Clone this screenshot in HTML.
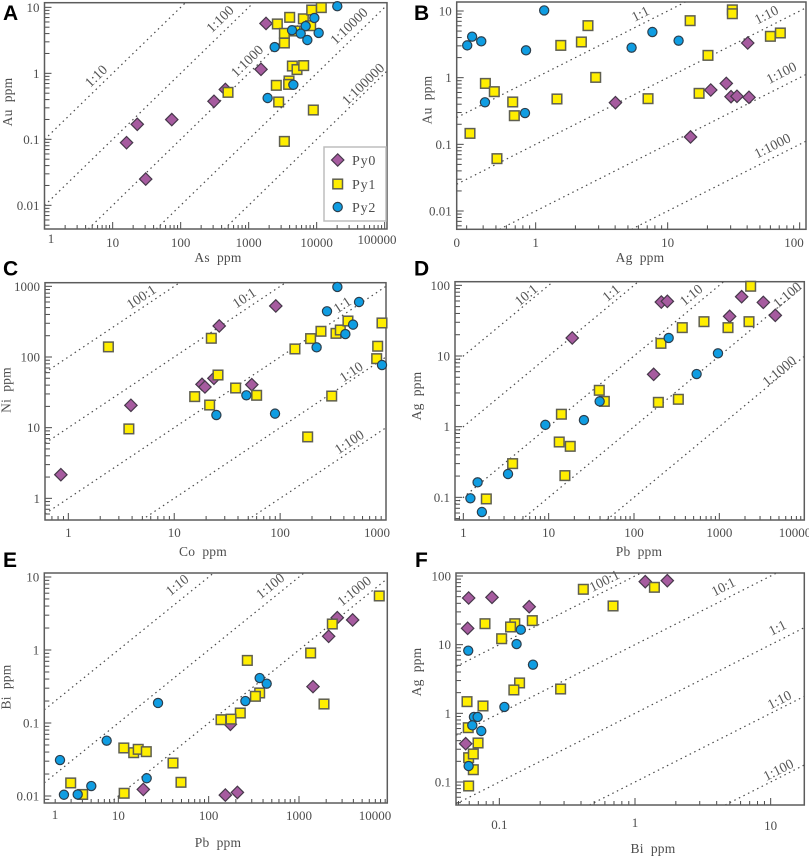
<!DOCTYPE html>
<html lang="en">
<head>
<meta charset="utf-8">
<title>Pyrite trace element scatter plots</title>
<style>
html,body{margin:0;padding:0;background:#fff;width:809px;height:858px;overflow:hidden;}
svg{display:block;}
text{font-family:"Liberation Serif",serif;fill:#4d4d4d;}
.lt{font-size:13px;}
.at{font-size:13.5px;letter-spacing:.2px;}
.rl{font-size:14px;fill:#555;}
.pl{font-family:"Liberation Sans",sans-serif;font-weight:700;font-size:21px;fill:#000;}
.lg{font-size:14px;letter-spacing:.8px;}
</style>
</head>
<body>
<svg id="chart" xmlns="http://www.w3.org/2000/svg" width="809" height="858" viewBox="0 0 809 858"></svg>
<script>
// Panel A: Au vs As
const aPy0X = [1800,1518,454,309,74,23,16,30.6];
const aPy0Y = [5.7,1.15,0.57,0.377,0.199,0.169,0.089,0.025];
const aPy1X = [2640,4010,6370,8450,11700,3350,3350,4800,8160,4390,5140,6440,3920,3870,2550,497,2760,8930,3350];
const aPy1Y = [5.6,7.05,6.7,9.1,9.9,4.04,2.88,4.38,5.27,1.29,1.14,1.31,0.766,0.68,0.658,0.515,0.368,0.278,0.093];
const aPy2X = [20100,9240,6890,4340,5820,10700,7290,2410,4540,1900];
const aPy2Y = [10.4,6.9,5.2,4.5,4.0,4.1,3.2,2.5,0.67,0.423];
const aRatios = [0.1,0.01,0.001,0.0001,0.00001];
const aRatioLabels = ["1:10","1:100","1:1000","1:10000","1:100000"];
const aXTicks = [1,10,100,1000,10000,100000];
const aXTickLabels = ["1","10","100","1000","10000","100000"];
const aYTicks = [10,1,0.1,0.01];
const aYTickLabels = ["10","1","0.1","0.01"];

// Panel B: Au vs Ag
const bPy0X = [40.4,27.8,21.2,30.2,33.5,41.3,4.02,14.9];
const bPy0Y = [3.31,0.82,0.653,0.519,0.525,0.507,0.422,0.129];
const bPy1X = [30.9,30.9,14.8,71.4,60,20.2,2.49,2.22,1.55,2.85,0.416,0.486,1.45,7.1,17.3,0.67,0.689,0.318,0.509];
const bPy1Y = [10.4,9.1,7.16,4.68,4.17,2.16,6.03,3.43,3.05,1.01,0.82,0.617,0.479,0.484,0.582,0.432,0.269,0.146,0.061];
const bPy2X = [1.16,0.303,0.33,0.387,0.845,0.413,0.83,5.33,7.66,12.1];
const bPy2Y = [10.2,3.05,4.12,3.51,2.57,0.427,0.295,2.82,4.84,3.59];
const bRatios = [1,0.1,0.01,0.001];
const bRatioLabels = ["1:1","1:10","1:100","1:1000"];
const bXTicks = [0.25,1,10,100];
const bXTickLabels = ["0","1","10","100"];
const bYTicks = [10,1,0.1,0.01];
const bYTickLabels = ["10","1","0.1","0.01"];

// Panel C: Ni vs Co
const cPy0X = [91,26.6,0.85,3.9,18.3,19.5,23.7,54];
const cPy0Y = [527,275,2.16,20.7,41,37.6,49.9,40.6];
const cPy1X = [2.39,3.73,22.4,25.9,15.6,21.6,38,60,138,194,243,337,370,437,916,834,816,307,182];
const cPy1Y = [139,9.6,184,55.6,27.5,20.9,36.4,28.7,130,182,231,216,241,323,303,142,94.7,28,7.4];
const cPy2X = [347,556,277,488,413,221,916,48,25,89.5];
const cPy2Y = [979,600,443,287,211,137,77,28.7,15.1,15.8];
const cRatios = [100,10,1,0.1,0.01];
const cRatioLabels = ["100:1","10:1","1:1","1:10","1:100"];
const cXTicks = [1,10,100,1000];
const cXTickLabels = ["1","10","100","1000"];
const cYTicks = [1000,100,10,1];
const cYTickLabels = ["1000","100","10","1"];

// Panel D: Ag vs Pb
const dPy0X = [18.9,209,246,1827,3280,1321,4530,170];
const dPy0Y = [18,58,59.4,69,57.4,36.4,37.6,5.5];
const dPy1X = [2330,661,368,207,2228,1264,39.2,44.9,14.1,13.3,17.9,15.5,3.78,1.86,193,331];
const dPy1Y = [97,30.6,25.2,15.1,30.6,25.2,3.27,2.28,1.5,0.607,0.527,0.203,0.3,0.095,2.21,2.44];
const dPy2X = [255,964,542,39.6,25.9,9.14,3.34,1.47,1.21,1.65];
const dPy2Y = [18,10.9,5.56,2.28,1.24,1.06,0.214,0.163,0.097,0.062];
const dRatios = [10,1,0.1,0.01,0.001];
const dRatioLabels = ["10:1","1:1","1:10","1:100","1:1000"];
const dXTicks = [1,10,100,1000,10000];
const dXTickLabels = ["1","10","100","1000","10000"];
const dYTicks = [100,10,1,0.1];
const dYTickLabels = ["100","10","1","0.1"];

// Panel E: Bi vs Pb
const ePy0X = [2655,3926,2130,1429,174,18.9,153,208];
const ePy0Y = [2.77,2.58,1.54,0.315,0.096,0.0123,0.0103,0.0112];
const ePy1X = [7740,2339,1346,268,367,329,224,177,137,1892,11.5,14.8,16.6,20.4,40.3,49.4,11.6,2.97,4.03];
const ePy1Y = [5.5,2.27,0.91,0.72,0.258,0.232,0.137,0.113,0.111,0.182,0.0455,0.0392,0.0436,0.0405,0.0283,0.0154,0.0109,0.0151,0.0105];
const ePy2X = [27.5,7.43,2.26,2.5,3.55,5.02,20.6,255,367,439];
const ePy2Y = [0.188,0.0573,0.0311,0.0104,0.0105,0.0137,0.0175,0.2,0.413,0.346];
const eRatios = [0.1,0.01,0.001];
const eRatioLabels = ["1:10","1:100","1:1000"];
const eXTicks = [1,10,100,1000,10000];
const eXTickLabels = ["1","10","100","1000","10000"];
const eYTicks = [10,1,0.1,0.01];
const eYTickLabels = ["10","1","0.1","0.01"];

// Panel F: Ag vs Bi
const fPy0X = [0.0594,0.0883,0.166,0.0584,0.0565,1.19,1.73];
const fPy0Y = [47.8,48.9,35.7,17.3,0.361,82.7,85.5];
const fPy1X = [0.416,1.39,0.689,0.175,0.0784,0.13,0.121,0.104,0.141,0.128,0.283,0.0578,0.0758,0.059,0.0697,0.0594,0.0643,0.0643,0.0594];
const fPy1Y = [64,68.4,36.6,22.4,20.2,20.2,18.1,12.2,2.77,2.19,2.26,1.48,1.28,0.618,0.37,0.226,0.256,0.151,0.0875];
const fPy2X = [0.144,0.134,0.177,0.059,0.109,0.065,0.0692,0.0632,0.0736,0.0594];
const fPy2Y = [16.5,10.2,5.11,8.18,1.24,0.885,0.885,0.668,0.553,0.171];
const fRatios = [100,10,1,0.1,0.01];
const fRatioLabels = ["100:1","10:1","1:1","1:10","1:100"];
const fXTicks = [0.1,1,10];
const fXTickLabels = ["0.1","1","10"];
const fYTicks = [100,10,1,0.1];
const fYTickLabels = ["100","10","1","0.1"];

const NS = "http://www.w3.org/2000/svg";
const root = document.getElementById("chart");

function make(tag, parent, attrs, txt) {
  const el = document.createElementNS(NS, tag);
  for (const k in attrs) el.setAttribute(k, attrs[k]);
  if (txt !== undefined) el.textContent = txt;
  parent.appendChild(el);
  return el;
}

const panels = [
  {id:"a", letter:"A", lx:3, ly:20, xName:"As  ppm", yName:"Au  ppm",
   box:[44.5,387,2.7,229], x0:44.67, xDec:68, y0:73.33, yDec:66,
   labMin:51, labMax:377, labY:247, labDy:[-4,0,0,0,0,-3], titleX:218, titleY:262, yTitleX:9, yTitleY:102,
   py0:[aPy0X,aPy0Y], py1:[aPy1X,aPy1Y], py2:[aPy2X,aPy2Y],
   ratios:aRatios, ratioLabels:aRatioLabels,
   ratioPos:[[97,77],[221,20],[248,62],[350,27],[364,85]],
   xTicks:aXTicks, xTickLabels:aXTickLabels, yTicks:aYTicks, yTickLabels:aYTickLabels},
  {id:"b", letter:"B", lx:414, ly:20, xName:"Ag  ppm", yName:"Au  ppm",
   box:[456.7,806,2,229.3], x0:535.67, xDec:132, y0:77.67, yDec:66.67,
   labMin:456.7, labMax:794, labY:247, labDy:[0,0,0,0], titleX:640, titleY:262, yTitleX:428.5, yTitleY:100,
   py0:[bPy0X,bPy0Y], py1:[bPy1X,bPy1Y], py2:[bPy2X,bPy2Y],
   ratios:bRatios, ratioLabels:bRatioLabels,
   ratioPos:[[641,15],[767,16],[782,74],[773,147]],
   xTicks:bXTicks, xTickLabels:bXTickLabels, yTicks:bYTicks, yTickLabels:bYTickLabels},
  {id:"c", letter:"C", lx:3, ly:275.5, xName:"Co  ppm", yName:"Ni  ppm",
   box:[45,386,282.7,520], x0:68.33, xDec:105.9, y0:498.33, yDec:70.67,
   labMin:51, labMax:377, labY:537, labDy:[0,0,0,0], titleX:203, titleY:556, yTitleX:7.5, yTitleY:390,
   py0:[cPy0X,cPy0Y], py1:[cPy1X,cPy1Y], py2:[cPy2X,cPy2Y],
   ratios:cRatios, ratioLabels:cRatioLabels,
   ratioPos:[[142,298],[245,299],[343,306],[352,373],[350,443]],
   xTicks:cXTicks, xTickLabels:cXTickLabels, yTicks:cYTicks, yTickLabels:cYTickLabels},
  {id:"d", letter:"D", lx:414, ly:275.5, xName:"Pb  ppm", yName:"Ag  ppm",
   box:[455,804.3,281.7,520], x0:463.33, xDec:85.33, y0:426.67, yDec:70.67,
   labMin:463, labMax:795, labY:537, labDy:[0,0,0,0,0], titleX:639, titleY:556, yTitleX:418, yTitleY:396,
   py0:[dPy0X,dPy0Y], py1:[dPy1X,dPy1Y], py2:[dPy2X,dPy2Y],
   ratios:dRatios, ratioLabels:dRatioLabels,
   ratioPos:[[527,296],[612,294],[692,296],[788,296],[780,372]],
   xTicks:dXTicks, xTickLabels:dXTickLabels, yTicks:dYTicks, yTickLabels:dYTickLabels},
  {id:"e", letter:"E", lx:3, ly:567, xName:"Pb  ppm", yName:"Bi  ppm",
   box:[44.3,387.3,573,803], x0:28, xDec:90.33, y0:650, yDec:73,
   labMin:55, labMax:375, labY:820, labDy:[-1,0,0,0,0], titleX:218, titleY:847, yTitleX:7.5, yTitleY:687,
   py0:[ePy0X,ePy0Y], py1:[ePy1X,ePy1Y], py2:[ePy2X,ePy2Y],
   ratios:eRatios, ratioLabels:eRatioLabels,
   ratioPos:[[178,586],[271,587],[355,592]],
   xTicks:eXTicks, xTickLabels:eXTickLabels, yTicks:eYTicks, yTickLabels:eYTickLabels},
  {id:"f", letter:"F", lx:415, ly:567, xName:"Bi  ppm", yName:"Ag  ppm",
   box:[456,804.3,573,805], x0:635, xDec:135.67, y0:713.33, yDec:68.67,
   labMin:456, labMax:795, labY:829, labDy:[0,-2,1], titleX:653, titleY:853, yTitleX:418, yTitleY:672,
   py0:[fPy0X,fPy0Y], py1:[fPy1X,fPy1Y], py2:[fPy2X,fPy2Y],
   ratios:fRatios, ratioLabels:fRatioLabels,
   ratioPos:[[605,582],[724,588],[778,629],[780,701],[779,771]],
   xTicks:fXTicks, xTickLabels:fXTickLabels, yTicks:fYTicks, yTickLabels:fYTickLabels}
];

function drawDiamond(parent, x, y) {
  const r = 6.2;
  const el = make("polygon", parent, {
    points: (x-r)+","+y+" "+x+","+(y-r)+" "+(x+r)+","+y+" "+x+","+(y+r),
    fill:"#a65b9f", stroke:"#46384a", "stroke-width":1.2
  });
  
  
}
function drawSquare(parent, x, y) {
  const s = 9.6;
  const el = make("rect", parent, {
    x:x-s/2, y:y-s/2, width:s, height:s,
    fill:"#ffee00", stroke:"#5f5f50", "stroke-width":1.5
  });
  
  
}
function drawCircle(parent, x, y) {
  const el = make("circle", parent, {
    cx:x, cy:y, r:4.6,
    fill:"#0f9de2", stroke:"#2c3e4c", "stroke-width":1.2
  });
  
  
}

panels.forEach(function (p) {
  const left = p.box[0], right = p.box[1], top = p.box[2], bottom = p.box[3];
  const sx = function (v) { return p.x0 + Math.log10(v) * p.xDec; };
  const sy = function (v) { return p.y0 - Math.log10(v) * p.yDec; };
  const invX = function (px) { return Math.pow(10, (px - p.x0) / p.xDec); };
  const invY = function (py) { return Math.pow(10, (p.y0 - py) / p.yDec); };

  const g = make("g", root, {});
  
  

  const letter = make("text", g, {x:p.lx, y:p.ly, class:"pl"}, p.letter);
  
  

  // ratio lines, trimmed to the plot box
  const lines = make("g", g, {});
  
  
  p.ratios.forEach(function (r) {
    const xa = Math.max(invX(left), invY(bottom) / r);
    const xb = Math.min(invX(right), invY(top) / r);
    if (xb <= xa) return;
    const ln = make("line", lines, {
      x1:sx(xa), y1:sy(xa * r), x2:sx(xb), y2:sy(xb * r),
      stroke:"#4a4a4a", "stroke-width":1.2, "stroke-dasharray":"1.5 3.6"
    });
    
    
  });

  // ratio labels
  const angle = -Math.atan(p.yDec / p.xDec) * 180 / Math.PI;
  p.ratioLabels.forEach(function (t, i) {
    const pos = p.ratioPos[i];
    const lb = make("text", g, {
      x:pos[0], y:pos[1], class:"rl", "text-anchor":"middle", "dominant-baseline":"middle",
      transform:"rotate(" + angle.toFixed(1) + " " + pos[0] + " " + pos[1] + ")"
    }, t);
    
    
  });

  // minor and major ticks
  const ticks = make("g", g, {stroke:"#4a4a4a", "stroke-width":1});
  
  
  for (let e = -4; e <= 6; e++) {
    for (let m = 1; m <= 9; m++) {
      const v = m * Math.pow(10, e);
      const len = m === 1 ? 7 : 4;
      const px = sx(v);
      if (px > left + 0.5 && px < right - 0.5) {
        make("line", ticks, {x1:px, y1:bottom, x2:px, y2:bottom - len});
      }
      const py = sy(v);
      if (py > top + 0.5 && py < bottom - 0.5) {
        make("line", ticks, {x1:left, y1:py, x2:left + (m === 1 ? 7 : 5), y2:py});
      }
    }
  }

  // frame
  const frame = make("rect", g, {
    x:left, y:top, width:right-left, height:bottom-top,
    fill:"none", stroke:"#5c5c5c", "stroke-width":1.5
  });
  
  

  // tick labels
  p.xTicks.forEach(function (v, i) {
    const cx = Math.min(p.labMax, Math.max(p.labMin, sx(v)));
    const t = make("text", g, {x:cx, y:p.labY + p.labDy[i], class:"lt", "text-anchor":"middle"}, p.xTickLabels[i]);
    
    
  });
  p.yTicks.forEach(function (v, i) {
    const t = make("text", g, {x:left - 5, y:sy(v) + 4.5, class:"lt", "text-anchor":"end"}, p.yTickLabels[i]);
    
    
  });

  // axis titles
  const xt = make("text", g, {x:p.titleX, y:p.titleY, class:"at", "text-anchor":"middle", style:"white-space:pre"}, p.xName);
  
  
  const yt = make("text", g, {
    x:p.yTitleX, y:p.yTitleY, class:"at", "text-anchor":"middle", style:"white-space:pre",
    "dominant-baseline":"middle",
    transform:"rotate(-90 " + p.yTitleX + " " + p.yTitleY + ")"
  }, p.yName);
  
  

  // series
  const s0 = make("g", g, {});
  
  
  p.py0[0].forEach(function (v, i) { drawDiamond(s0, sx(v), sy(p.py0[1][i])); });
  const s1 = make("g", g, {});
  
  
  p.py1[0].forEach(function (v, i) { drawSquare(s1, sx(v), sy(p.py1[1][i])); });
  const s2 = make("g", g, {});
  
  
  p.py2[0].forEach(function (v, i) { drawCircle(s2, sx(v), sy(p.py2[1][i])); });
});

// legend (panel A)
const legend = make("g", root, {});


const legendBox = make("rect", legend, {x:324, y:147, width:62, height:74, fill:"#fff", stroke:"#bdbdbd", "stroke-width":1.5});


drawDiamond(legend, 337.7, 160);
drawSquare(legend, 337.7, 184);
drawCircle(legend, 337.7, 207);
const legendNames = ["Py0","Py1","Py2"];
const legendRows = [165,189,212];
legendNames.forEach(function (t, i) {
  const el = make("text", legend, {x:352, y:legendRows[i], class:"lg"}, t);
  
  
});
</script>
</body>
</html>
